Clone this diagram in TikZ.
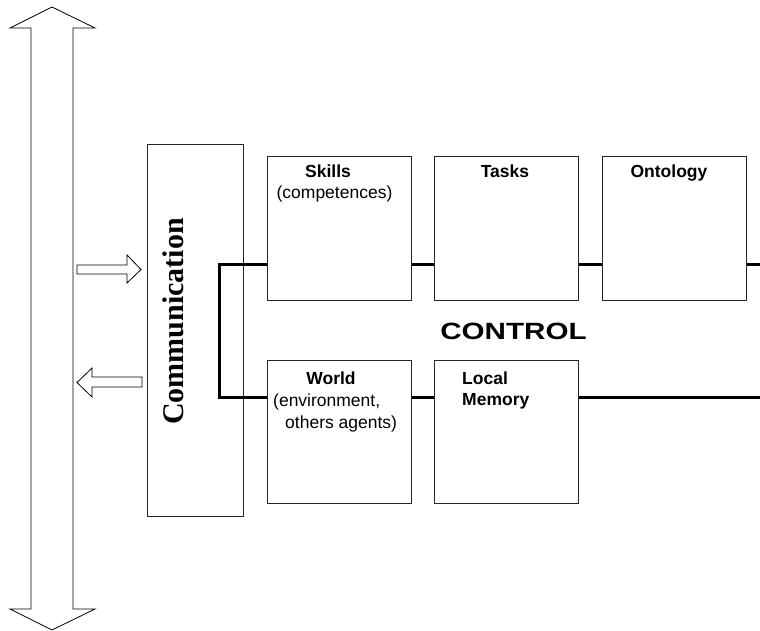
\documentclass[tikz,border=0pt]{standalone}
\usepackage{fontspec}
\setmainfont{Liberation Sans}
\newfontfamily\commfont{Liberation Serif}
\begin{document}
\begin{tikzpicture}[x=1pt,y=-1pt,
  box/.style={draw=black!85,line width=1pt,fill=white,inner sep=0pt},
  ctlline/.style={line width=3pt,line cap=butt,line join=miter},
  blockarrow/.style={draw=black,line width=0.8pt,fill=white,line join=miter},
  lbl/.style={inner sep=0pt,anchor=base,font=\fontsize{17.5}{21}\selectfont},
  lblb/.style={lbl,font=\fontsize{17.5}{21}\selectfont\bfseries},
  lbll/.style={inner sep=0pt,anchor=base west,font=\fontsize{17.5}{21}\selectfont}]
\path[use as bounding box] (0,0) rectangle (760,631);

% vertical double arrow (message channel)
\draw[blockarrow] (52,7) -- (95,28) -- (73,28) -- (73,609) -- (95,609)
  -- (52,630) -- (10,609) -- (31,609) -- (31,28) -- (10,28) -- cycle;

% incoming and outgoing messages
\draw[blockarrow] (77,265) -- (127,265) -- (127,255) -- (141,269.5)
  -- (127,283) -- (127,274) -- (77,274) -- cycle;
\draw[blockarrow] (142,377) -- (92,377) -- (92,368) -- (77,382.5)
  -- (92,397) -- (92,387) -- (142,387) -- cycle;

% communication module
\node[box,minimum width=96,minimum height=371] (comm) at (195,330.5) {};
\node[inner sep=0pt,anchor=base,rotate=90,
  font=\fontsize{30}{36}\selectfont\commfont\bfseries] (commlbl) at (183,321.5) {Communication};

% control bus, over the communication module and under the other modules
\coordinate (ctlTop) at (219.5,264);
\coordinate (ctlBot) at (219.5,397);
\coordinate (busTopEnd) at (760,264);
\coordinate (busBotEnd) at (760,397);
\draw[ctlline] (busTopEnd) -- (ctlTop) -- (ctlBot) -- (busBotEnd);

% knowledge modules
\node[box,minimum width=144,minimum height=143] (skills) at (339,228.5) {};
\node[box,minimum width=144,minimum height=143] (tasks) at (506,228.5) {};
\node[box,minimum width=144,minimum height=143] (onto) at (674,228.5) {};
\node[box,minimum width=144,minimum height=143] (world) at (339,431.5) {};
\node[box,minimum width=144,minimum height=143] (mem) at (506,431.5) {};

\node[lblb] (skillsT) at (328,178) {Skills};
\node[lbl] (skillsS) at (334.5,199) {(competences)};
\node[lblb] (tasksT) at (505,178) {Tasks};
\node[lblb] (ontoT) at (669,178) {Ontology};
\node[lblb] (worldT) at (331,384) {World};
\node[lbll] (worldS1) at (273,406) {(environment,};
\node[lbll] (worldS2) at (285,428) {others agents)};
\node[lbll,font=\fontsize{17.5}{21}\selectfont\bfseries] (memT1) at (462,384) {Local};
\node[lbll,font=\fontsize{17.5}{21}\selectfont\bfseries] (memT2) at (462,405) {Memory};

% control label
\node[inner sep=0pt,anchor=base,font=\fontsize{23.5}{28}\selectfont\bfseries] (ctl) at (513.5,339)
  {\scalebox{1.26}[1]{CONTROL}};
\end{tikzpicture}
\end{document}
